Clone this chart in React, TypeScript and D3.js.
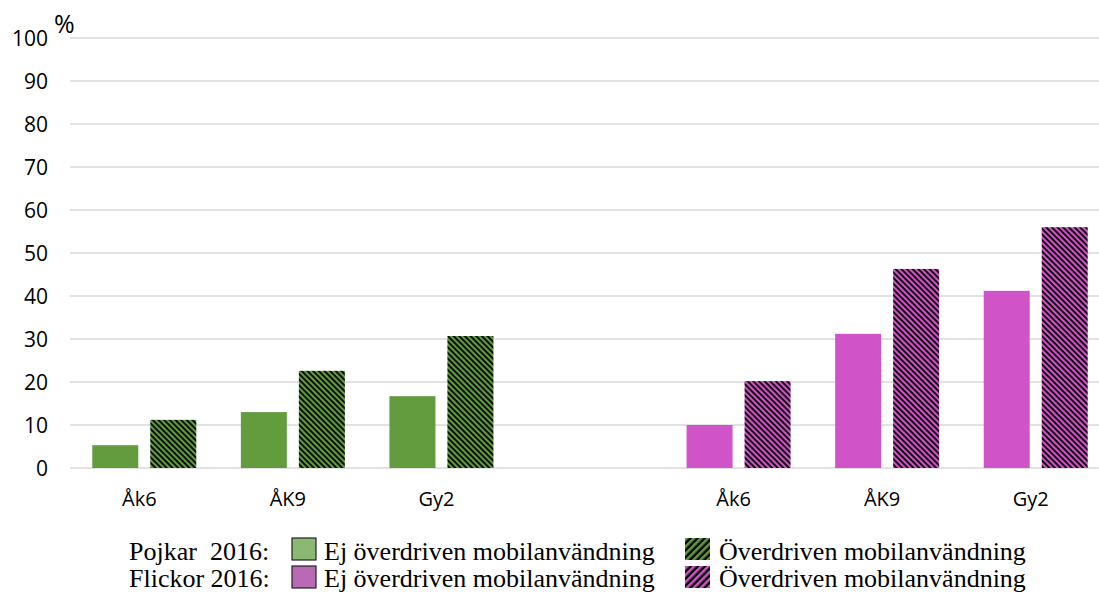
import React from "react";
import * as d3 from "d3";

const categories = ["Åk6", "ÅK9", "Gy2", "", "Åk6", "ÅK9", "Gy2"];
const groups = ["Pojkar", "Pojkar", "Pojkar", "", "Flickor", "Flickor", "Flickor"];
const ejValues = [5.3, 13.0, 16.7, null, 10.0, 31.2, 41.2];
const overValues = [11.2, 22.6, 30.7, null, 20.2, 46.3, 56.0];
const yTicks = [0, 10, 20, 30, 40, 50, 60, 70, 80, 90, 100];

const GREEN = "#629c3f";
const PINK = "#d054c8";
const GREEN_LEG = "#8bb872";
const PINK_LEG = "#b96ab5";

export default function App() {
  const W = 1099, H = 597;
  const x0 = 70, x1 = 1110, yTop = 38, yBot = 468;
  const x = d3.scaleBand<number>().domain(d3.range(categories.length)).range([x0, x1]).padding(0);
  const y = d3.scaleLinear().domain([0, 100]).range([yBot, yTop]);
  const bw = 46, off = 29;
  const colorOf = (i: number) => (groups[i] === "Pojkar" ? GREEN : PINK);
  const pat = (i: number) => (groups[i] === "Pojkar" ? "url(#hG)" : "url(#hP)");

  return (
    <svg width={W} height={H} style={{ position: "absolute", left: 0, top: 0, background: "#fff" }}>
      <defs>
        <pattern id="hG" width="4" height="4" patternUnits="userSpaceOnUse" patternTransform="rotate(-45)">
          <rect width="4" height="4" fill="#000" />
          <rect width="2.2" height="4" fill={GREEN} />
        </pattern>
        <pattern id="hP" width="4" height="4" patternUnits="userSpaceOnUse" patternTransform="rotate(-45)">
          <rect width="4" height="4" fill="#000" />
          <rect width="2.2" height="4" fill={PINK} />
        </pattern>
        <pattern id="lG" width="5" height="5" patternUnits="userSpaceOnUse" patternTransform="rotate(45)">
          <rect width="5" height="5" fill="#000" />
          <rect width="2.6" height="5" fill={GREEN} />
        </pattern>
        <pattern id="lP" width="5" height="5" patternUnits="userSpaceOnUse" patternTransform="rotate(45)">
          <rect width="5" height="5" fill="#000" />
          <rect width="2.6" height="5" fill={PINK} />
        </pattern>
      </defs>
      {yTicks.map((t) => (
        <g key={t}>
          <line x1={x0} x2={W} y1={y(t)} y2={y(t)} stroke="#d9d9d9" strokeWidth={1.5} />
          <text x={48} y={y(t) + 7.5} textAnchor="end" fontFamily="Open Sans, sans-serif" fontSize={21} fill="#000">
            {t}
          </text>
        </g>
      ))}
      <text x={54} y={33} fontFamily="Open Sans, sans-serif" fontSize={25} fill="#000">%</text>
      {categories.map((c, i) => {
        const cx = (x(i) as number) + x.bandwidth() / 2;
        const e = ejValues[i];
        const o = overValues[i];
        return (
          <g key={i}>
            {e != null && (
              <rect x={cx - off - bw / 2} y={y(e)} width={bw} height={yBot - y(e)} fill={colorOf(i)} />
            )}
            {o != null && (
              <rect x={cx + off - bw / 2} y={y(o)} width={bw} height={yBot - y(o)} fill={pat(i)} />
            )}
            {c && (
              <text x={cx - 5} y={506} textAnchor="middle" fontFamily="Open Sans, sans-serif" fontSize={20} fill="#000">
                {c}
              </text>
            )}
          </g>
        );
      })}
      <g fontFamily="Liberation Serif, Times New Roman, serif" fontSize={26} fill="#000">
        <text x={129} y={560} xmlSpace="preserve">Pojkar  2016:</text>
        <rect x={292} y={538} width={24} height={22} fill={GREEN_LEG} stroke="#222" strokeWidth={1.2} />
        <text x={324} y={560}>Ej överdriven mobilanvändning</text>
        <rect x={685} y={538} width={25} height={22} fill="url(#lG)" />
        <text x={719} y={560}>Överdriven mobilanvändning</text>

        <text x={129} y={587}>Flickor 2016:</text>
        <rect x={292} y={566} width={24} height={22} fill={PINK_LEG} stroke="#222" strokeWidth={1.2} />
        <text x={324} y={587}>Ej överdriven mobilanvändning</text>
        <rect x={685} y={566} width={25} height={22} fill="url(#lP)" />
        <text x={719} y={587}>Överdriven mobilanvändning</text>
      </g>
    </svg>
  );
}
